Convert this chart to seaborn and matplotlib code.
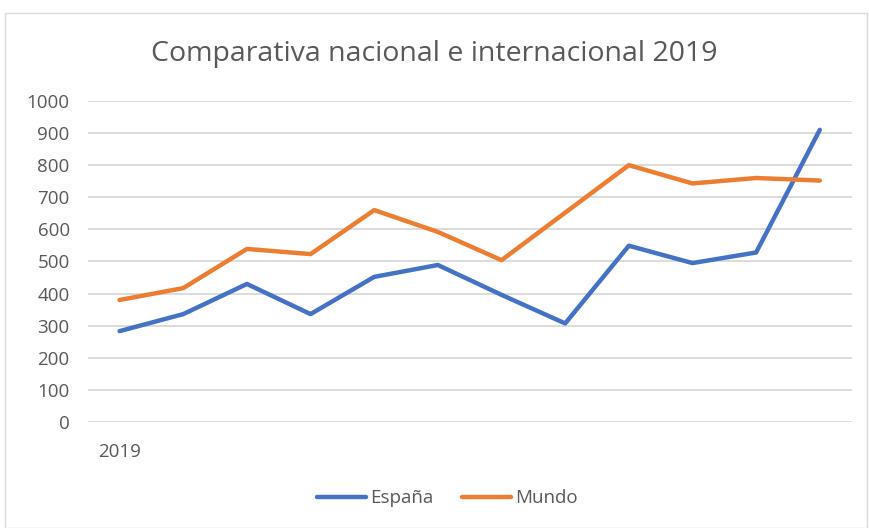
import pandas as pd
import matplotlib.pyplot as plt
import seaborn as sns

# -----------------------------------
# DATA
# -----------------------------------
periodos = list(range(12))
etiquetas_x = ["2019", "", "", "", "", "", "", "", "", "", "", ""]
espana = [283, 336, 430, 336, 452, 489, 396, 307, 549, 495, 528, 910]
mundo = [380, 417, 539, 523, 660, 592, 504, 652, 800, 743, 760, 752]
y_ticks = [0, 100, 200, 300, 400, 500, 600, 700, 800, 900, 1000]

df = pd.DataFrame({
    "periodo": periodos * 2,
    "valor": espana + mundo,
    "serie": ["España"] * 12 + ["Mundo"] * 12
})

# -----------------------------------
# STYLE
# -----------------------------------
sns.set_style("white")
plt.rcParams['font.family'] = ['Open Sans', 'DejaVu Sans']
texto = "#595959"

fig = plt.figure(figsize=(8.69, 5.28), dpi=100)
ax = fig.add_axes([0.101, 0.2008, 0.879, 0.608])

sns.lineplot(
    data=df,
    x="periodo",
    y="valor",
    hue="serie",
    palette={"España": "#4472C4", "Mundo": "#ED7D31"},
    linewidth=3.2,
    ax=ax,
    legend=False
)
for ln in ax.lines:
    ln.set_solid_capstyle("round")
    ln.set_solid_joinstyle("round")

ax.set_xlim(-0.5, 11.5)
ax.set_ylim(0, 1000)
ax.set_yticks(y_ticks)
ax.set_yticklabels([str(v) for v in y_ticks], fontsize=13.5, color=texto)
ax.set_xticks(periodos)
ax.set_xticklabels(etiquetas_x, fontsize=13.5, color=texto)
ax.tick_params(axis="both", length=0)
ax.tick_params(axis="x", pad=15)
ax.tick_params(axis="y", pad=13)
ax.yaxis.grid(True, color="#D9D9D9", linewidth=1.3)
ax.set_axisbelow(True)
for s in ax.spines.values():
    s.set_visible(False)
ax.set_xlabel("")
ax.set_ylabel("")

fig.text(0.5, 0.898, "Comparativa nacional e internacional 2019",
         ha="center", va="center", fontsize=20.5, color=texto)

# legend
handles = [plt.Line2D([], [], color="#4472C4", lw=3.2, solid_capstyle="round"),
           plt.Line2D([], [], color="#ED7D31", lw=3.2, solid_capstyle="round")]
fig.legend(handles, ["España", "Mundo"], loc="center", bbox_to_anchor=(0.515, 0.056),
           ncol=2, frameon=False, fontsize=13.5, labelcolor=texto,
           handlelength=2.6, handletextpad=0.25, columnspacing=1.5)

# border
fig.patches.append(plt.Rectangle((0.006, 0.0), 0.992, 0.976, transform=fig.transFigure,
                                 fill=False, edgecolor="#D9D9D9", linewidth=1))

plt.savefig("out.png", dpi=100)
